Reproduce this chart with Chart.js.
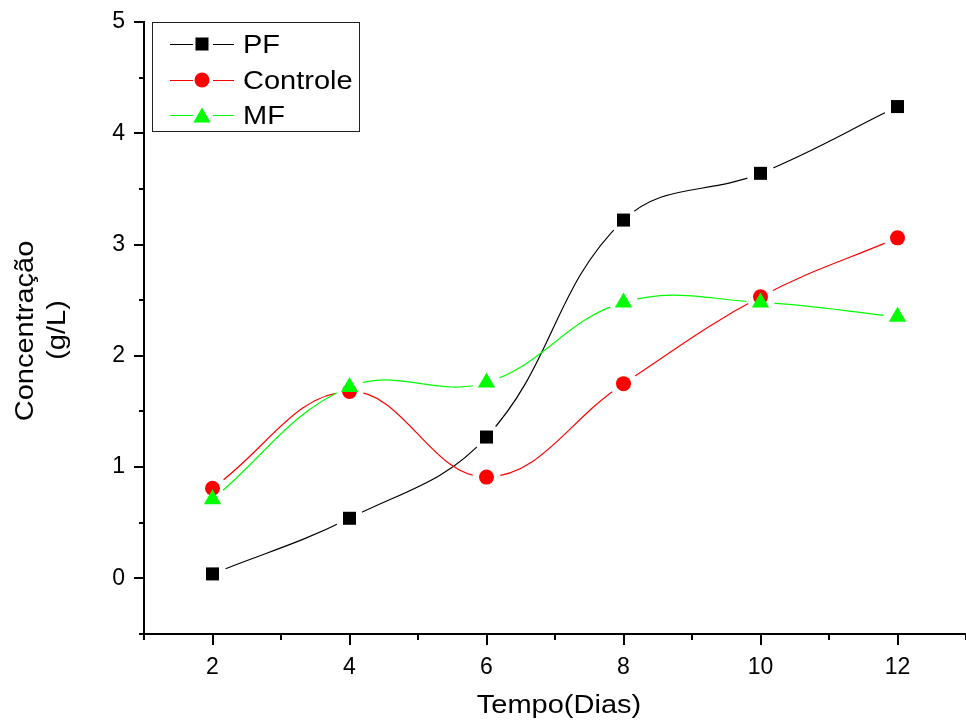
<!DOCTYPE html>
<html>
<head>
<meta charset="utf-8">
<script src="https://cdn.jsdelivr.net/npm/chart.js@4.4.1/dist/chart.umd.min.js"></script>
<style>
  html, body { margin: 0; padding: 0; background: #fff; }
  #wrap { width: 966px; height: 726px; }
</style>
</head>
<body>
<div id="wrap"><canvas id="myChart" width="966" height="726"></canvas></div>
<script>
// dias de coleta
const dias = [2, 4, 6, 8, 10, 12];
// concentração (g/L) por tratamento
const pf = [0.04, 0.54, 1.27, 3.22, 3.64, 4.24];
const controle = [0.81, 1.68, 0.91, 1.75, 2.53, 3.06];
const mf = [0.71, 1.72, 1.76, 2.48, 2.48, 2.35];
// ticks
const xTicks = [2, 4, 6, 8, 10, 12];
const yTicks = [0, 1, 2, 3, 4, 5];

const series = [
  { label: 'PF', values: pf, color: '#000000', style: 'rect', radius: 9.2, order: 2 },
  { label: 'Controle', values: controle, color: '#ff0000', style: 'circle', radius: 7.5, order: 1 },
  { label: 'MF', values: mf, color: '#00ff00', style: 'triangle', radius: 10, order: 0 },
];

const FONT = '"Liberation Sans", Arial, sans-serif';
const STRETCH = 1.16;
const GAP = 14; // linha interrompida perto dos símbolos (estilo Origin)

function drawMarker(ctx, style, x, y, r, color) {
  ctx.save();
  ctx.fillStyle = color;
  ctx.beginPath();
  if (style === 'rect') {
    const s = r * Math.SQRT1_2;
    ctx.rect(x - s, y - s, 2 * s, 2 * s);
  } else if (style === 'circle') {
    ctx.arc(x, y, r, 0, Math.PI * 2);
  } else {
    ctx.moveTo(x, y - r);
    ctx.lineTo(x + r * Math.sin(Math.PI * 2 / 3), y + r / 2);
    ctx.lineTo(x - r * Math.sin(Math.PI * 2 / 3), y + r / 2);
    ctx.closePath();
  }
  ctx.fill();
  ctx.restore();
}

function stretchedText(ctx, text, x, y, rotate) {
  ctx.save();
  ctx.translate(x, y);
  if (rotate) ctx.rotate(-Math.PI / 2);
  ctx.scale(STRETCH, 1);
  ctx.fillText(text, 0, 0);
  ctx.restore();
}

// recorta a linha em volta dos pontos e redesenha os pontos por cima
const gapPlugin = {
  id: 'gapPlugin',
  beforeDatasetDraw(chart, args) {
    const ctx = chart.ctx;
    ctx.save();
    ctx.beginPath();
    ctx.rect(0, 0, chart.width, chart.height);
    args.meta.data.forEach(p => {
      ctx.moveTo(p.x + GAP, p.y);
      ctx.arc(p.x, p.y, GAP, 0, Math.PI * 2, true);
    });
    ctx.clip('evenodd');
  },
  afterDatasetDraw(chart, args) {
    chart.ctx.restore();
    args.meta.data.forEach(p => p.draw(chart.ctx, chart.chartArea));
  }
};

// ticks menores/maiores, títulos e legenda estilo Origin
const originPlugin = {
  id: 'originPlugin',
  afterDraw(chart) {
    const ctx = chart.ctx;
    const xs = chart.scales.x;
    const ys = chart.scales.y;
    const area = chart.chartArea;
    ctx.save();
    ctx.strokeStyle = '#000';
    ctx.lineWidth = 2;
    ctx.beginPath();
    for (let v = 1; v <= 13; v++) {
      const px = Math.round(xs.getPixelForValue(v));
      const len = v % 2 === 0 ? 11 : 6;
      ctx.moveTo(px, area.bottom);
      ctx.lineTo(px, area.bottom + len);
    }
    for (let i = -1; i <= 10; i++) {
      const v = i / 2;
      const py = Math.round(ys.getPixelForValue(v));
      const len = i % 2 === 0 ? 10 : 5;
      ctx.moveTo(area.left, py);
      ctx.lineTo(area.left - len, py);
    }
    ctx.stroke();

    // títulos dos eixos
    ctx.fillStyle = '#000';
    ctx.font = '25px ' + FONT;
    ctx.textAlign = 'center';
    ctx.textBaseline = 'alphabetic';
    stretchedText(ctx, 'Tempo(Dias)', 559, 713, false);
    stretchedText(ctx, 'Concentração', 33, 331, true);
    stretchedText(ctx, '(g/L)', 65, 330, true);

    // legenda
    ctx.lineWidth = 1;
    ctx.strokeStyle = '#222';
    ctx.strokeRect(152.5, 22.5, 207, 109);
    const rows = [44, 80, 115];
    series.forEach((s, i) => {
      const y = rows[i];
      ctx.strokeStyle = s.color;
      ctx.lineWidth = 1;
      ctx.beginPath();
      ctx.moveTo(170, y + 0.5);
      ctx.lineTo(193, y + 0.5);
      ctx.moveTo(213, y + 0.5);
      ctx.lineTo(234, y + 0.5);
      ctx.stroke();
      drawMarker(ctx, s.style, 202, s.style === 'triangle' ? y + 2.5 : y, s.radius, s.color);
      ctx.fillStyle = '#000';
      ctx.font = '25px ' + FONT;
      ctx.textAlign = 'left';
      ctx.textBaseline = 'alphabetic';
      stretchedText(ctx, s.label, 243, y + 9, false);
    });
    ctx.restore();
  }
};

const ctx = document.getElementById('myChart').getContext('2d');
const myChart = new Chart(ctx, {
  type: 'line',
  data: {
    datasets: series.map(s => ({
      label: s.label,
      data: dias.map((d, i) => ({ x: d, y: s.values[i] })),
      borderColor: s.color,
      backgroundColor: s.color,
      borderWidth: 1.2,
      pointStyle: s.style,
      pointRadius: s.radius,
      pointHoverRadius: s.radius,
      pointBorderWidth: 0,
      tension: 0.4,
      order: s.order,
      clip: false,
    })),
  },
  options: {
    responsive: false,
    animation: false,
    events: [],
    layout: { autoPadding: false, padding: { left: 0, top: 22, right: 0, bottom: 0 } },
    plugins: {
      legend: { display: false },
      tooltip: { enabled: false },
    },
    scales: {
      x: {
        type: 'linear',
        min: 1,
        max: 13,
        grid: { display: false, drawTicks: false },
        border: { display: true, color: '#000', width: 2 },
        ticks: {
          stepSize: 1,
          autoSkip: false,
          maxRotation: 0,
          padding: 20,
          color: '#000',
          font: { family: FONT, size: 23 },
          callback: v => (xTicks.includes(v) ? String(v) : ''),
        },
        afterFit: scale => {
          scale.height = 92;
          scale.paddingLeft = 0;
          scale.paddingRight = 0;
        },
      },
      y: {
        min: -0.5,
        max: 5,
        grid: { display: false, drawTicks: false },
        border: { display: true, color: '#000', width: 2 },
        ticks: {
          stepSize: 0.5,
          autoSkip: false,
          padding: 19,
          color: '#000',
          font: { family: FONT, size: 23 },
          callback: v => (yTicks.includes(v) ? String(v) : ''),
        },
        afterFit: scale => {
          scale.width = 144;
          scale.paddingTop = 0;
          scale.paddingBottom = 0;
        },
      },
    },
  },
  plugins: [gapPlugin, originPlugin],
});
</script>
</body>
</html>
